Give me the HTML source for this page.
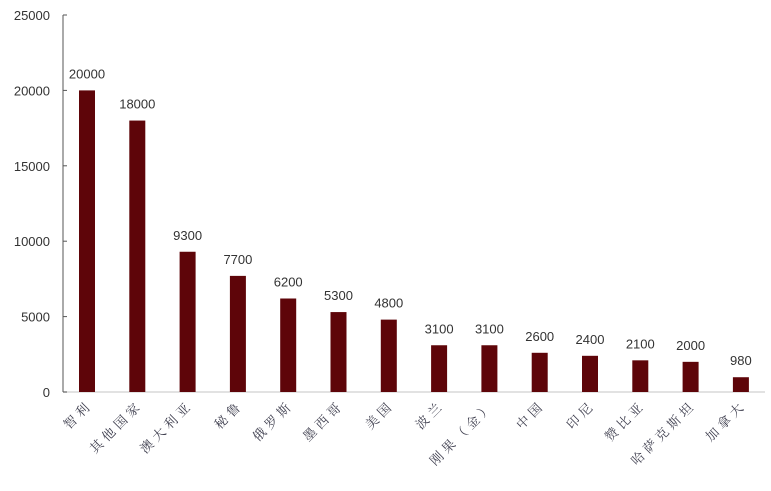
<!DOCTYPE html>
<html><head><meta charset="utf-8"><style>
body{margin:0;background:#fff}
svg{display:block}
text{font-family:"Liberation Sans","Noto Sans CJK SC",sans-serif;fill:#333;font-size:13px}
.c{font-family:"Liberation Serif","Noto Serif CJK SC",serif;font-size:13px;fill:#404050;letter-spacing:4px}
</style></head><body>
<svg width="771" height="491" viewBox="0 0 771 491" xmlns="http://www.w3.org/2000/svg">
<line x1="63" y1="392" x2="765" y2="392" stroke="#d9d9d9" stroke-width="1.5"/>
<line x1="63" y1="15" x2="63" y2="392" stroke="#555" stroke-width="1"/>
<g stroke="#555">
<line x1="63" y1="392" x2="67" y2="392"/><line x1="63" y1="316.6" x2="67" y2="316.6"/>
<line x1="63" y1="241.2" x2="67" y2="241.2"/><line x1="63" y1="165.8" x2="67" y2="165.8"/>
<line x1="63" y1="90.4" x2="67" y2="90.4"/><line x1="63" y1="15" x2="67" y2="15"/>
</g>
<g text-anchor="end">
<text x="50" y="397">0</text><text x="50" y="321.6">5000</text><text x="50" y="246.2">10000</text>
<text x="50" y="170.8">15000</text><text x="50" y="95.4">20000</text><text x="50" y="20">25000</text>
</g>
<g fill="#5e0509" id="bars"></g>
<g id="lbl" text-anchor="middle"></g>
<g id="cat"></g>
<script>
var d=[["智利",20000],["其他国家",18000],["澳大利亚",9300],["秘鲁",7700],["俄罗斯",6200],["墨西哥",5300],["美国",4800],["波兰",3100],["刚果（金）",3100],["中国",2600],["印尼",2400],["赞比亚",2100],["哈萨克斯坦",2000],["加拿大",980]];
var ns="http://www.w3.org/2000/svg",b=document.getElementById("bars"),l=document.getElementById("lbl"),c=document.getElementById("cat");
d.forEach(function(e,i){var cx=87+i*50.3,h=e[1]*377/25000,y=392-h;
var r=document.createElementNS(ns,"rect");r.setAttribute("x",cx-8);r.setAttribute("y",y);r.setAttribute("width",16);r.setAttribute("height",h);b.appendChild(r);
var t=document.createElementNS(ns,"text");t.setAttribute("x",cx);t.setAttribute("y",y-12);t.textContent=e[1];l.appendChild(t);
var s=document.createElementNS(ns,"text");s.setAttribute("class","c");s.setAttribute("text-anchor","end");s.setAttribute("transform","translate("+(cx+6)+",406) rotate(-45)");s.textContent=e[0];c.appendChild(s);});
</script>
</svg>
</body></html>
